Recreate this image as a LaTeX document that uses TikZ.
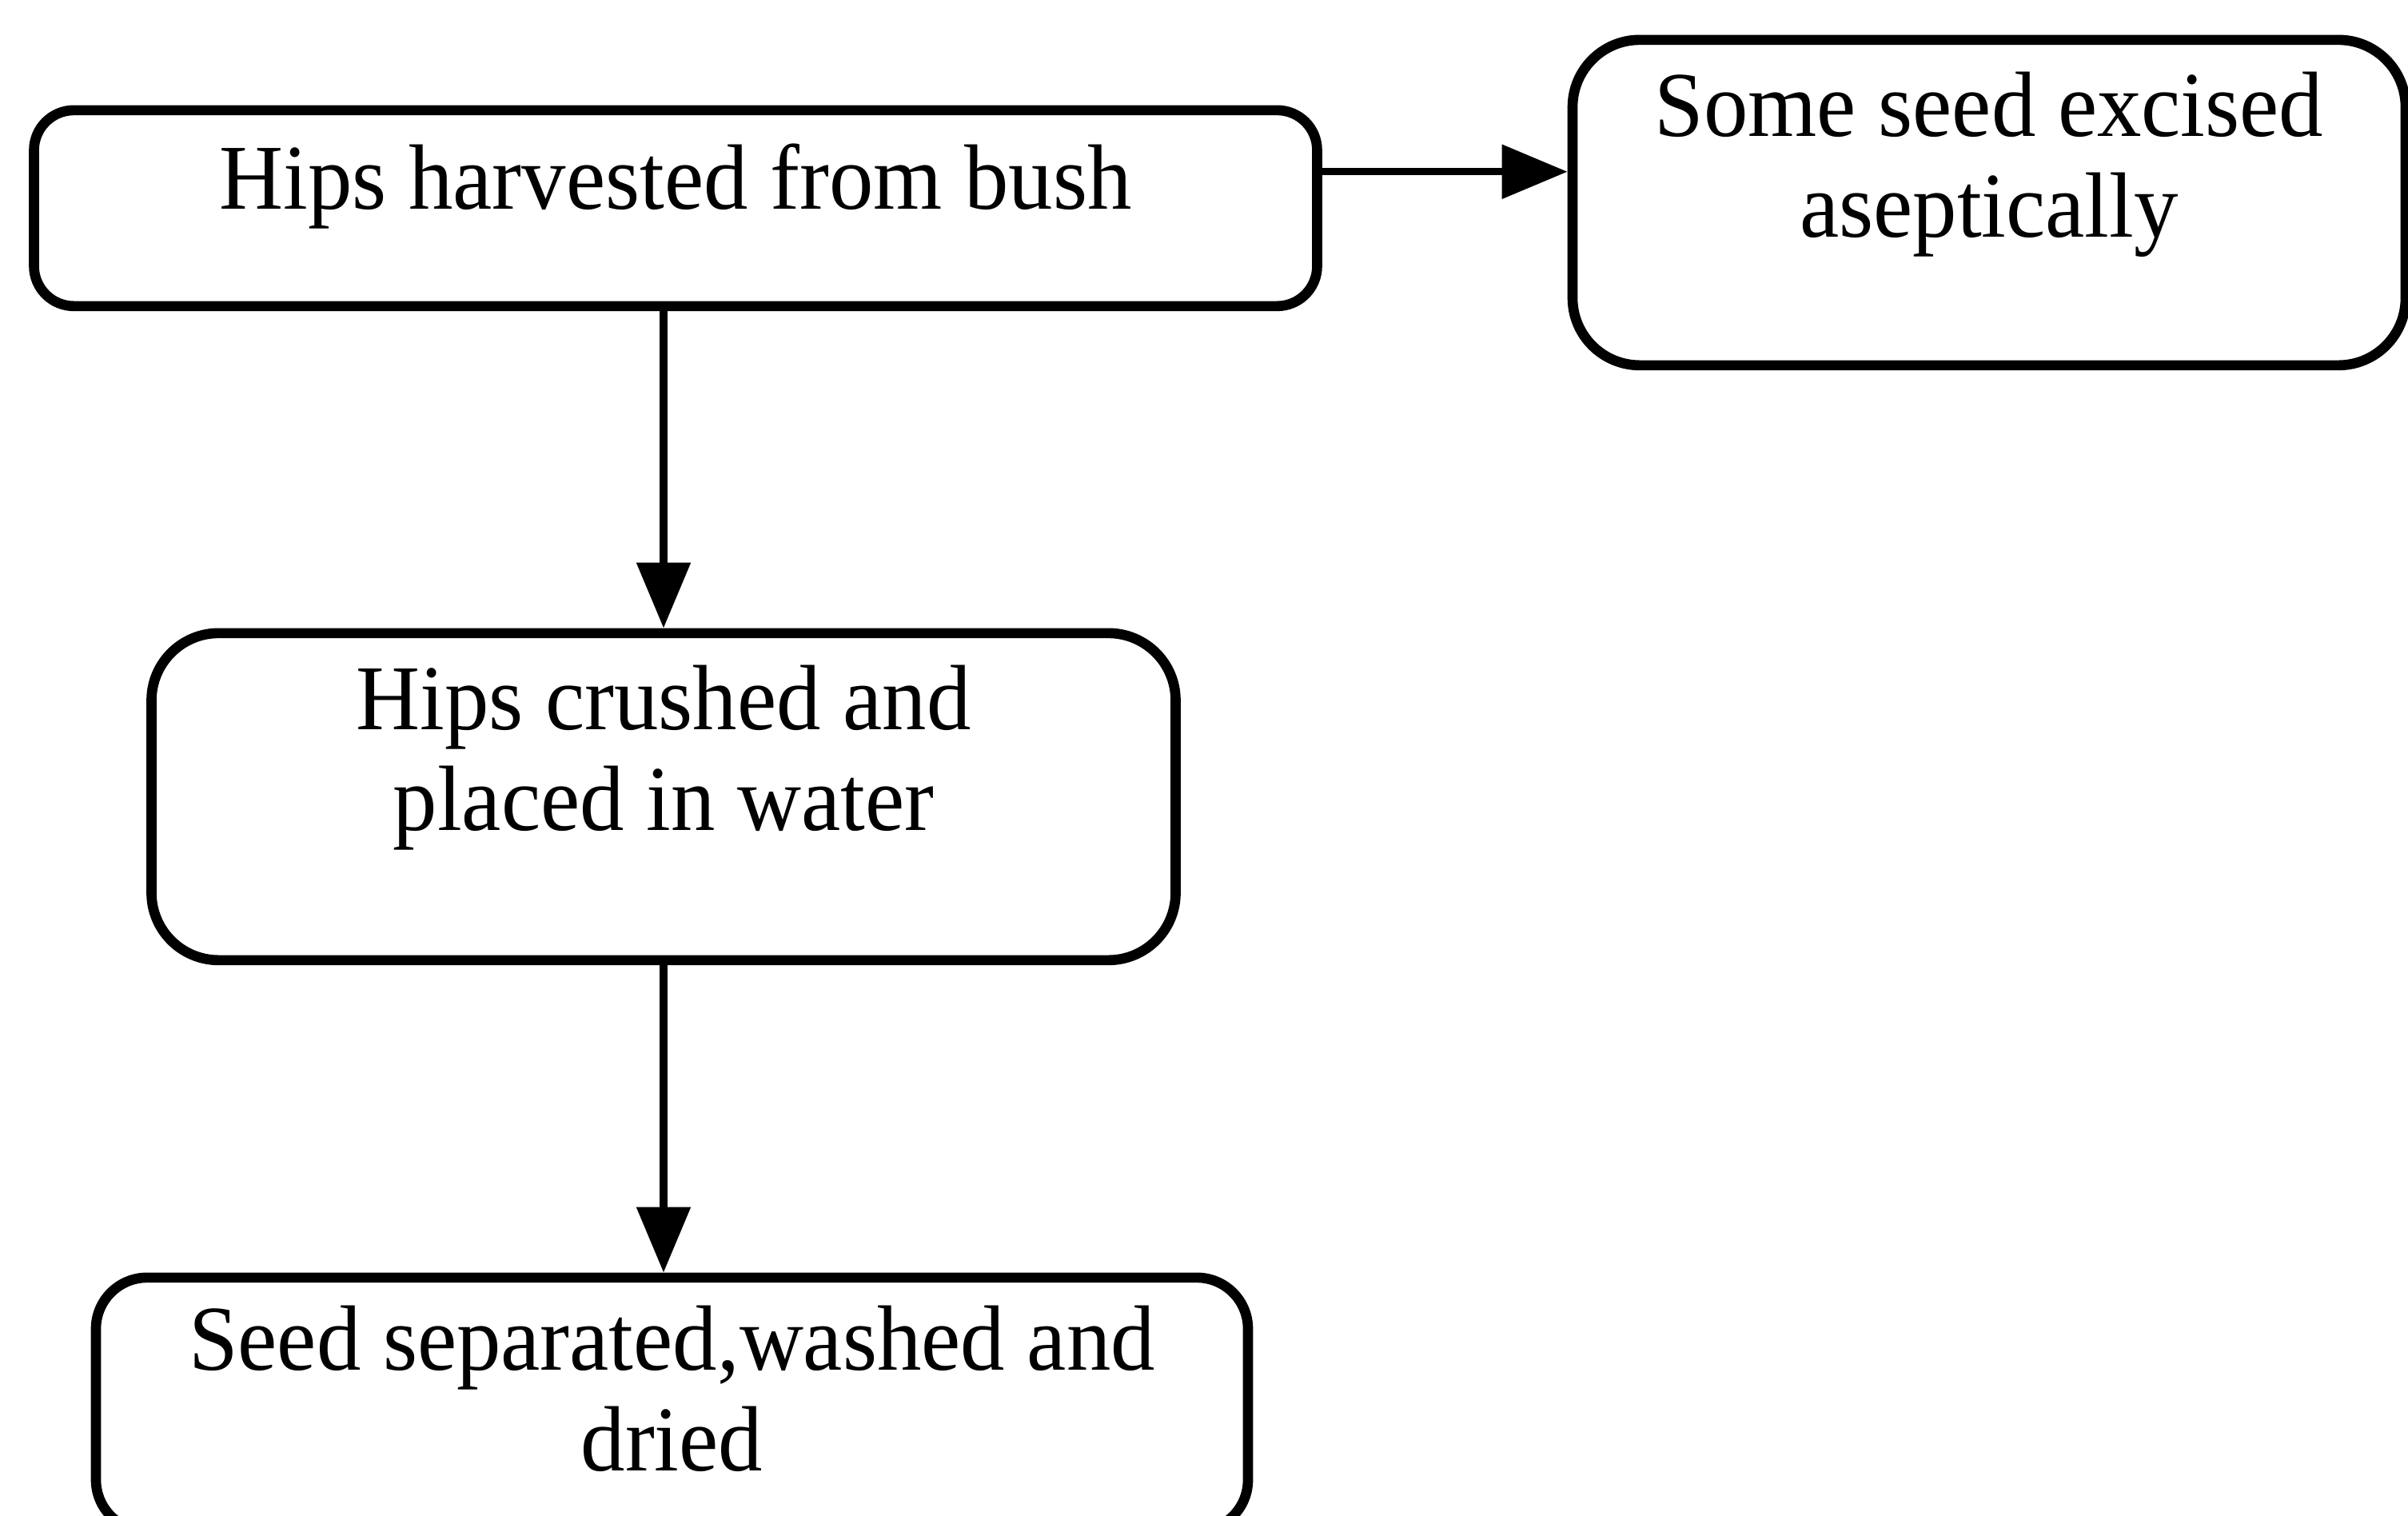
\documentclass[tikz,border=0pt]{standalone}
\usepackage{fontspec}
\setmainfont[FakeStretch=0.955]{Liberation Serif}
\usetikzlibrary{arrows.meta}

\begin{document}
\begin{tikzpicture}[font=\fontsize{16.5}{18}\selectfont,
        stage/.style={rectangle, rounded corners=0.42cm, draw=black, line width=1.8pt,
                      align=center, inner ysep=0pt},
        flow/.style={-{Triangle[length=4.1mm, width=3.3mm]}, line width=1.3pt}
    ]
        \useasboundingbox (0,0) rectangle (15.06,9.48);
        \node[stage, rounded corners=0.25cm, minimum width=8.025cm, text height=0.62cm, text depth=0.605cm]
            (harvest) at (4.225,8.178) {Hips harvested from bush};
        \node[stage, minimum width=5.21cm, text height=1.235cm, text depth=0.80cm]
            (excise) at (12.44,8.213) {Some seed excised\\aseptically};
        \node[stage, minimum width=6.405cm, text height=1.235cm, text depth=0.81cm]
            (crush) at (4.15,4.498) {Hips crushed and\\placed in water};
        \node[stage, rounded corners=0.32cm, minimum width=7.205cm, text height=1.21cm, text depth=0.375cm]
            (seed) at (4.2025,0.698) {Seed separated,washed and\\dried};
        \draw[flow] ([yshift=2.28mm]harvest.east) -- ([yshift=2.28mm]harvest.east -| excise.west);
        \draw[flow] (harvest.south -| crush.north) -- (crush.north);
        \draw[flow] (crush.south) -- (crush.south |- seed.north);
    \end{tikzpicture}
\end{document}
